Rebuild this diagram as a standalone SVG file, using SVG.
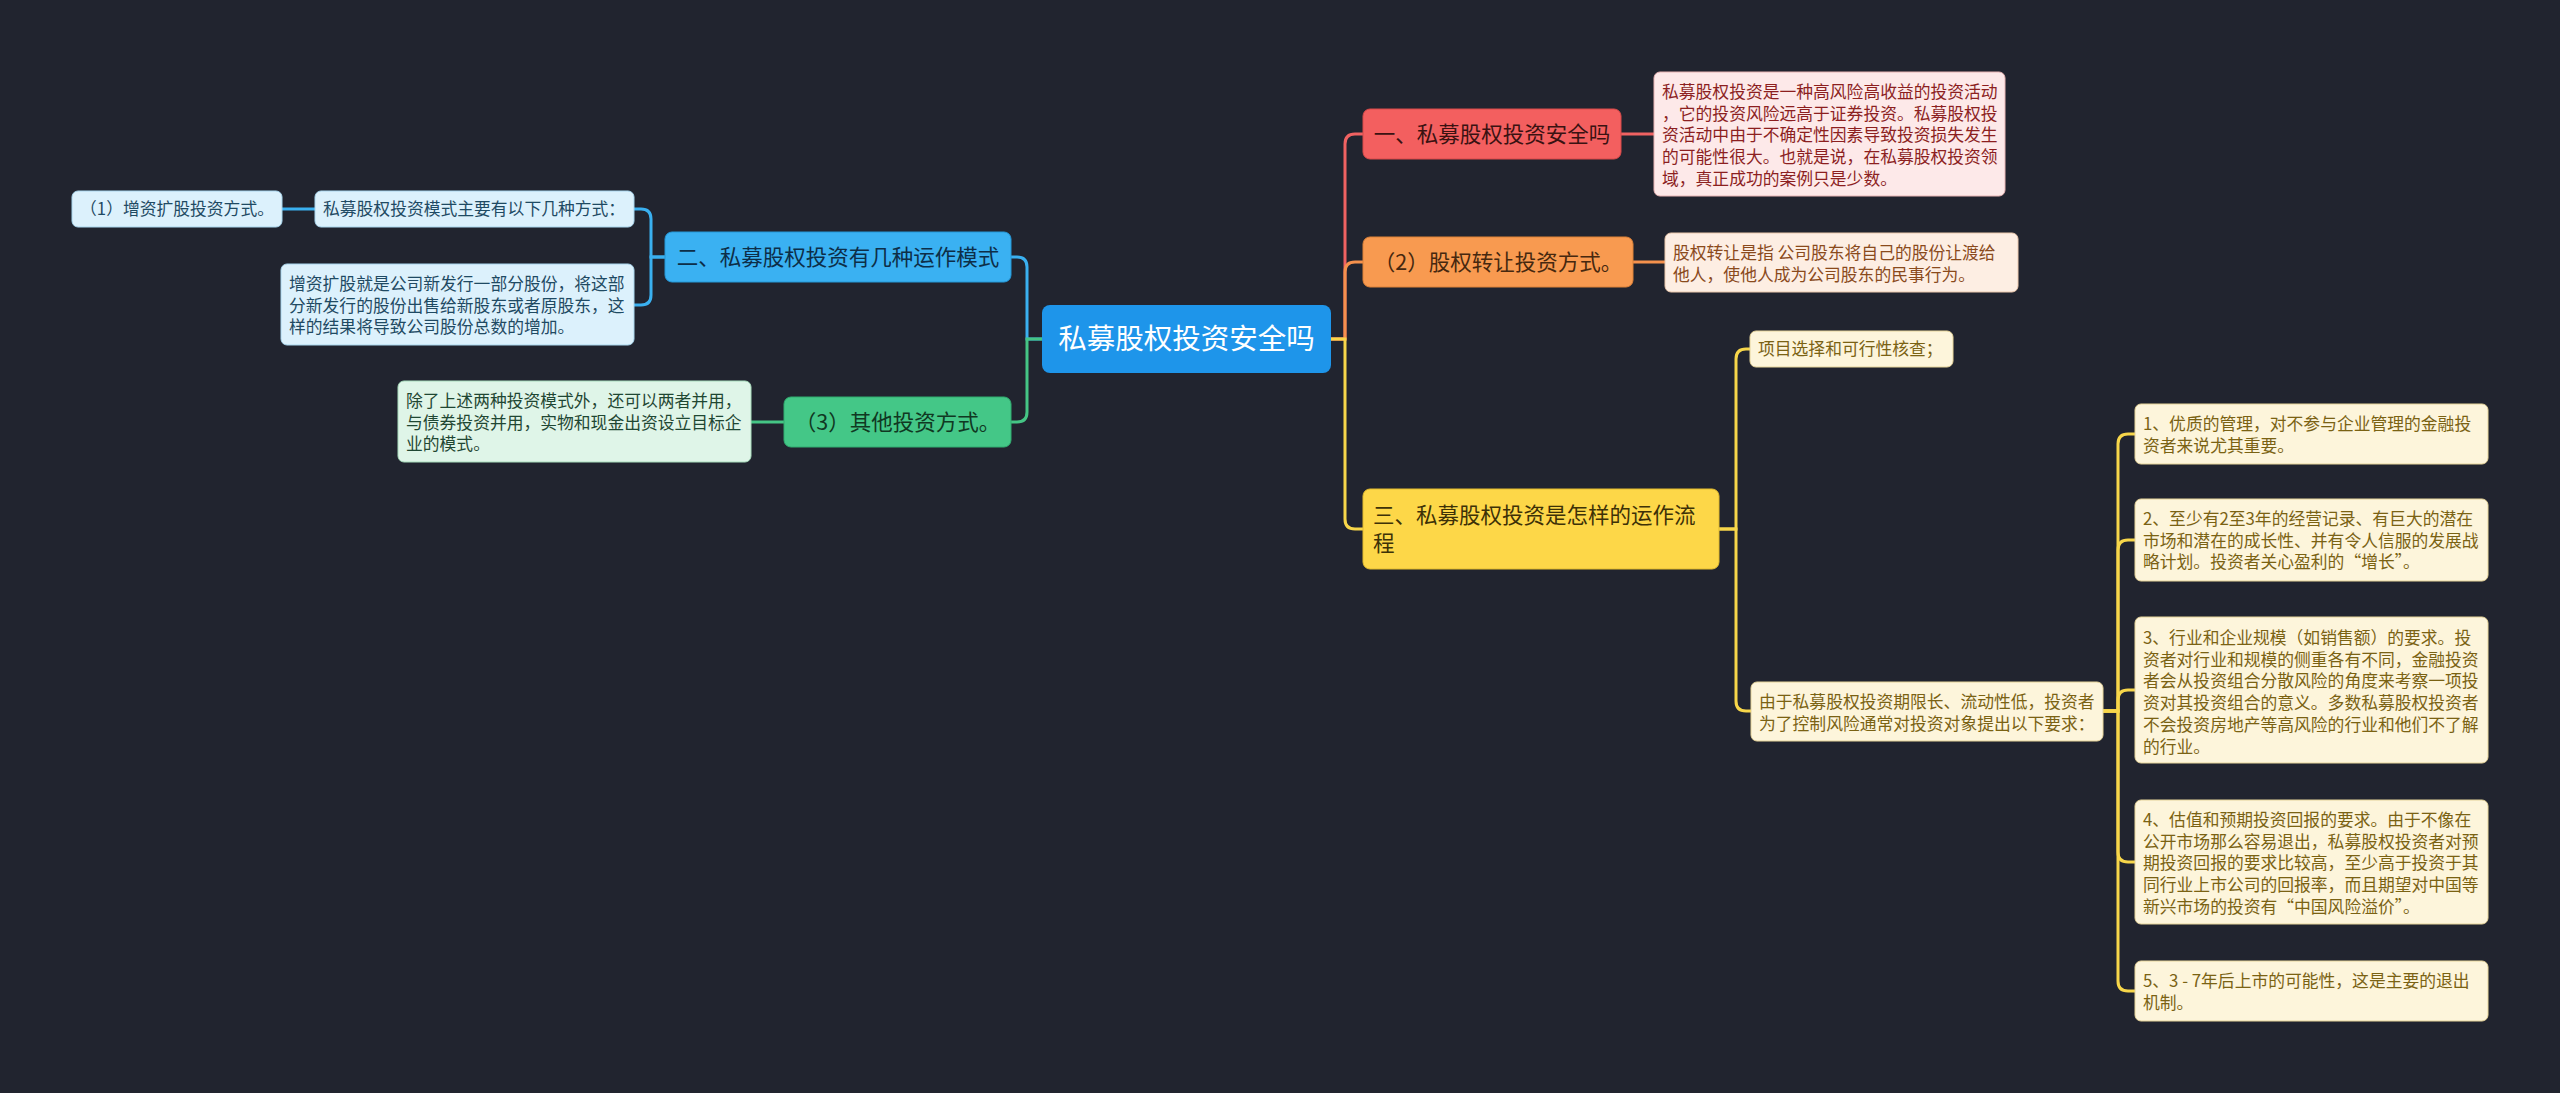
<svg xmlns="http://www.w3.org/2000/svg" width="2560" height="1093" viewBox="0 0 2560 1093">
<style>
text{font-family:"Noto Sans CJK SC","Noto Sans",sans-serif;}
.root{font-size:28.5px;fill:#ffffff;}
.br{font-size:21.5px;}
.sm{font-size:16.8px;}
.c{fill:none;stroke-width:3;stroke-linecap:round;}
</style>
<rect x="0" y="0" width="2560" height="1093" fill="#21242f"/>
<g id="connectors">
<path class="c" stroke="#f06262" d="M1331 339 H1345 V144 Q1345 134 1355 134 H1363"/>
<path class="c" stroke="#f5914d" d="M1331 339 H1345 V272 Q1345 262 1355 262 H1363"/>
<path class="c" stroke="#f7d64a" d="M1331 339 H1345 V519 Q1345 529 1355 529 H1363"/>
<path class="c" stroke="#3ab0f0" d="M1042 339 H1027 V267 Q1027 257 1017 257 H1011"/>
<path class="c" stroke="#45c585" d="M1042 339 H1027 V412 Q1027 422 1017 422 H1011"/>
<path class="c" stroke="#3ab0f0" d="M665 257 H651 V219 Q651 209 641 209 H634"/>
<path class="c" stroke="#3ab0f0" d="M665 257 H651 V295 Q651 305 641 305 H634"/>
<path class="c" stroke="#3ab0f0" d="M315 209 H282"/>
<path class="c" stroke="#45c585" d="M784 422 H751"/>
<path class="c" stroke="#f06262" d="M1621 134 H1654"/>
<path class="c" stroke="#f5914d" d="M1633 262 H1665"/>
<path class="c" stroke="#f7d64a" d="M1719 529 H1736 V359 Q1736 349 1746 349 H1750"/>
<path class="c" stroke="#f7d64a" d="M1719 529 H1736 V701 Q1736 711 1746 711 H1751"/>
<path class="c" stroke="#f7d64a" d="M2103 711 H2118 V444 Q2118 434 2128 434 H2135"/>
<path class="c" stroke="#f7d64a" d="M2103 711 H2118 V550 Q2118 540 2128 540 H2135"/>
<path class="c" stroke="#f7d64a" d="M2103 711 H2118 V700 Q2118 690 2128 690 H2135"/>
<path class="c" stroke="#f7d64a" d="M2103 711 H2118 V852 Q2118 862 2128 862 H2135"/>
<path class="c" stroke="#f7d64a" d="M2103 711 H2118 V981 Q2118 991 2128 991 H2135"/>
</g>
<g id="root">
<rect x="1042" y="305" width="289" height="68" rx="8" fill="#1e95ea"/>
<text class="root" x="1186.5" y="349" text-anchor="middle">私募股权投资安全吗</text>
</g>
<g id="n1">
<rect x="1363" y="109" width="258" height="50" rx="7" fill="#f35f5f" stroke="#d94a4a" stroke-width="1"/>
<text class="br" x="1492" y="142" text-anchor="middle" fill="#3a1212">一、私募股权投资安全吗</text>
</g>
<g id="n1a">
<rect x="1654" y="72" width="351" height="124" rx="6" fill="#fde9e9" stroke="#e8b4b4" stroke-width="1"/>
<text class="sm" fill="#8c1f1f"><tspan x="1662" y="98">私募股权投资是一种高风险高收益的投资活动</tspan><tspan x="1662" y="119.7">，它的投资风险远高于证券投资。私募股权投</tspan><tspan x="1662" y="141.4">资活动中由于不确定性因素导致投资损失发生</tspan><tspan x="1662" y="163.1">的可能性很大。也就是说，在私募股权投资领</tspan><tspan x="1662" y="184.8">域，真正成功的案例只是少数。</tspan></text>
</g>
<g id="n2">
<rect x="1363" y="237" width="270" height="50" rx="7" fill="#f89a50" stroke="#de8238" stroke-width="1"/>
<text class="br" x="1498" y="270" text-anchor="middle" fill="#46280f">（2）股权转让投资方式。</text>
</g>
<g id="n2a">
<rect x="1665" y="233" width="353" height="59" rx="6" fill="#fdeee3" stroke="#ebc8ad" stroke-width="1"/>
<text class="sm" fill="#8a4a1c"><tspan x="1673" y="259">股权转让是指 公司股东将自己的股份让渡给</tspan><tspan x="1673" y="280.7">他人，使他人成为公司股东的民事行为。</tspan></text>
</g>
<g id="n3">
<rect x="1363" y="489" width="356" height="80" rx="7" fill="#fdd748" stroke="#e2bb2e" stroke-width="1"/>
<text class="br" fill="#3d3107"><tspan x="1373" y="523">三、私募股权投资是怎样的运作流</tspan><tspan x="1373" y="551">程</tspan></text>
</g>
<g id="n3a">
<rect x="1750" y="331" width="203" height="36" rx="6" fill="#fdf5db" stroke="#e6d49a" stroke-width="1"/>
<text class="sm" x="1758" y="355" fill="#7a6213">项目选择和可行性核查；</text>
</g>
<g id="n3b">
<rect x="1751" y="682" width="352" height="59" rx="6" fill="#fdf5db" stroke="#e6d49a" stroke-width="1"/>
<text class="sm" fill="#7a6213"><tspan x="1759" y="708">由于私募股权投资期限长、流动性低，投资者</tspan><tspan x="1759" y="729.7">为了控制风险通常对投资对象提出以下要求：</tspan></text>
</g>
<g id="g1">
<rect x="2135" y="404" width="353" height="60" rx="6" fill="#fdf5db" stroke="#e6d49a" stroke-width="1"/>
<text class="sm" fill="#7a6213"><tspan x="2143" y="430">1、优质的管理，对不参与企业管理的金融投</tspan><tspan x="2143" y="451.7">资者来说尤其重要。</tspan></text>
</g>
<g id="g2">
<rect x="2135" y="499" width="353" height="82" rx="6" fill="#fdf5db" stroke="#e6d49a" stroke-width="1"/>
<text class="sm" fill="#7a6213"><tspan x="2143" y="525">2、至少有2至3年的经营记录、有巨大的潜在</tspan><tspan x="2143" y="546.7">市场和潜在的成长性、并有令人信服的发展战</tspan><tspan x="2143" y="568.4">略计划。投资者关心盈利的“增长”。</tspan></text>
</g>
<g id="g3">
<rect x="2135" y="617" width="353" height="146" rx="6" fill="#fdf5db" stroke="#e6d49a" stroke-width="1"/>
<text class="sm" fill="#7a6213"><tspan x="2143" y="644">3、行业和企业规模（如销售额）的要求。投</tspan><tspan x="2143" y="665.7">资者对行业和规模的侧重各有不同，金融投资</tspan><tspan x="2143" y="687.4">者会从投资组合分散风险的角度来考察一项投</tspan><tspan x="2143" y="709.1">资对其投资组合的意义。多数私募股权投资者</tspan><tspan x="2143" y="730.8">不会投资房地产等高风险的行业和他们不了解</tspan><tspan x="2143" y="752.5">的行业。</tspan></text>
</g>
<g id="g4">
<rect x="2135" y="800" width="353" height="124" rx="6" fill="#fdf5db" stroke="#e6d49a" stroke-width="1"/>
<text class="sm" fill="#7a6213"><tspan x="2143" y="826">4、估值和预期投资回报的要求。由于不像在</tspan><tspan x="2143" y="847.7">公开市场那么容易退出，私募股权投资者对预</tspan><tspan x="2143" y="869.4">期投资回报的要求比较高，至少高于投资于其</tspan><tspan x="2143" y="891.1">同行业上市公司的回报率，而且期望对中国等</tspan><tspan x="2143" y="912.8">新兴市场的投资有“中国风险溢价”。</tspan></text>
</g>
<g id="g5">
<rect x="2135" y="961" width="353" height="60" rx="6" fill="#fdf5db" stroke="#e6d49a" stroke-width="1"/>
<text class="sm" fill="#7a6213"><tspan x="2143" y="987">5、3 - 7年后上市的可能性，这是主要的退出</tspan><tspan x="2143" y="1008.7">机制。</tspan></text>
</g>
<g id="n4">
<rect x="665" y="232" width="346" height="50" rx="7" fill="#3ab1f2" stroke="#2598d8" stroke-width="1"/>
<text class="br" x="838" y="265" text-anchor="middle" fill="#0d2e48">二、私募股权投资有几种运作模式</text>
</g>
<g id="n4a">
<rect x="315" y="191" width="319" height="36" rx="6" fill="#dcf1fc" stroke="#a9d6ee" stroke-width="1"/>
<text class="sm" x="323" y="215" fill="#1f4a63">私募股权投资模式主要有以下几种方式：</text>
</g>
<g id="n4a1">
<rect x="72" y="191" width="210" height="36" rx="6" fill="#dcf1fc" stroke="#a9d6ee" stroke-width="1"/>
<text class="sm" x="177" y="215" text-anchor="middle" fill="#1f4a63">（1）增资扩股投资方式。</text>
</g>
<g id="n4b">
<rect x="281" y="264" width="353" height="81" rx="6" fill="#dcf1fc" stroke="#a9d6ee" stroke-width="1"/>
<text class="sm" fill="#1f4a63"><tspan x="289" y="290">增资扩股就是公司新发行一部分股份，将这部</tspan><tspan x="289" y="311.7">分新发行的股份出售给新股东或者原股东，这</tspan><tspan x="289" y="333.4">样的结果将导致公司股份总数的增加。</tspan></text>
</g>
<g id="n5">
<rect x="784" y="397" width="227" height="50" rx="7" fill="#44c787" stroke="#31ad70" stroke-width="1"/>
<text class="br" x="897.5" y="430" text-anchor="middle" fill="#103822">（3）其他投资方式。</text>
</g>
<g id="n5a">
<rect x="398" y="381" width="353" height="81" rx="6" fill="#dff5e8" stroke="#a8dcbc" stroke-width="1"/>
<text class="sm" fill="#1f4733"><tspan x="406" y="407">除了上述两种投资模式外，还可以两者并用，</tspan><tspan x="406" y="428.7">与债券投资并用，实物和现金出资设立目标企</tspan><tspan x="406" y="450.4">业的模式。</tspan></text>
</g>
</svg>
